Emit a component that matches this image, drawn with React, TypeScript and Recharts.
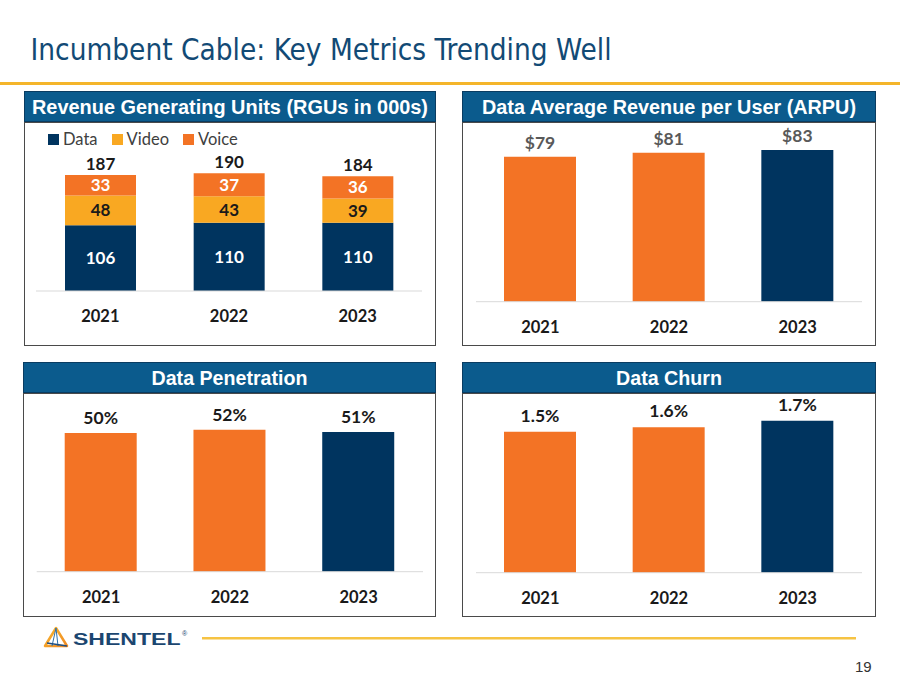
import React from "react";
import { BarChart, Bar, XAxis, YAxis, LabelList, Cell } from "recharts";

const years = ["2021", "2022", "2023"];
const rguData = [106, 110, 110];
const rguVideo = [48, 43, 39];
const rguVoice = [33, 37, 36];
const rguTotal = [187, 190, 184];
const arpu = [79.0, 81.3, 82.7];
const penetration = [50.4, 51.6, 50.8];
const churn = [1.54, 1.59, 1.66];

const ORANGE = "#F37325";
const NAVY = "#00345F";
const GOLD = "#F9A822";
const barColors = [ORANGE, ORANGE, NAVY];

const LABEL_FONT = "Lato, 'Open Sans', sans-serif";
const HEAD_FONT = "'Liberation Sans', Arial, sans-serif";

const rguRows = years.map((year, i) => ({
  year,
  data: rguData[i],
  video: rguVideo[i],
  voice: rguVoice[i],
  total: rguTotal[i],
}));
const arpuRows = years.map((year, i) => ({ year, value: arpu[i] }));
const penRows = years.map((year, i) => ({ year, value: penetration[i] }));
const churnRows = years.map((year, i) => ({ year, value: churn[i] }));

const legendItems = [
  { name: "Data", color: NAVY },
  { name: "Video", color: GOLD },
  { name: "Voice", color: ORANGE },
];

const YearTick = (props: any) => {
  const { x, y, payload } = props;
  return (
    <text
      x={x}
      y={y + 31}
      textAnchor="middle"
      fontFamily={LABEL_FONT}
      fontWeight={700}
      fontSize={16.5}
      fill="#1a1a1a"
    >
      {payload.value}
    </text>
  );
};

function Panel({ x, y, w, bottom, title, titleWidth }: any) {
  const headH = 31;
  return (
    <>
      <div
        style={{
          position: "absolute",
          left: x,
          top: y + headH,
          width: w,
          height: bottom - y - headH,
          boxSizing: "border-box",
          border: "1px solid #4a4a4a",
          background: "#fff",
        }}
      />
      <svg
        style={{ position: "absolute", left: x, top: y }}
        width={w}
        height={headH}
      >
        <rect x={0.5} y={0.5} width={w - 1} height={headH - 1} fill="#0B5B8D" stroke="#0A3C61" />
        <text
          x={w / 2}
          y={22.5}
          textAnchor="middle"
          fontFamily={HEAD_FONT}
          fontWeight={700}
          fontSize={19.5}
          fill="#fff"
          textLength={titleWidth}
          lengthAdjust="spacingAndGlyphs"
        >
          {title}
        </text>
      </svg>
    </>
  );
}

function SimpleBars({ rows, left, top, width, height, margin, domain, axisH, fmt, labelColor, offset }: any) {
  return (
    <div style={{ position: "absolute", left, top }}>
      <BarChart width={width} height={height} data={rows} margin={margin}>
        <XAxis
          dataKey="year"
          height={axisH}
          axisLine={{ stroke: "#d9d9d9" }}
          tickLine={false}
          tickSize={0}
          tickMargin={0}
          tick={<YearTick />}
          interval={0}
        />
        <YAxis hide domain={domain} />
        <Bar dataKey="value" barSize={72} isAnimationActive={false}>
          {rows.map((_: any, i: number) => (
            <Cell key={i} fill={barColors[i]} />
          ))}
          <LabelList
            dataKey="value"
            position="top"
            offset={offset}
            formatter={fmt}
            fill={labelColor}
            fontFamily={LABEL_FONT}
            fontWeight={700}
            fontSize={17.5}
          />
        </Bar>
      </BarChart>
    </div>
  );
}

export default function App() {
  return (
    <div
      style={{
        position: "absolute",
        left: 0,
        top: 0,
        width: 900,
        height: 684,
        background: "#fff",
        overflow: "hidden",
      }}
    >
      <svg style={{ position: "absolute", left: 0, top: 0 }} width={900} height={90}>
        <text
          x={30.5}
          y={60}
          fontFamily="'DejaVu Sans Condensed', 'DejaVu Sans', sans-serif"
          fontSize={30}
          fill="#124A75"
          textLength={581}
          lengthAdjust="spacingAndGlyphs"
        >
          Incumbent Cable: Key Metrics Trending Well
        </text>
        <rect x={0} y={82} width={900} height={3} fill="#F4B52A" />
      </svg>

      <Panel x={24} y={91} w={412} bottom={346} title="Revenue Generating Units (RGUs in 000s)" titleWidth={396} />
      <Panel x={462} y={91} w={414} bottom={346} title="Data Average Revenue per User (ARPU)" titleWidth={374} />
      <Panel x={23} y={362} w={413} bottom={617} title="Data Penetration" titleWidth={156} />
      <Panel x={462} y={362} w={414} bottom={617} title="Data Churn" titleWidth={106} />

      {/* RGU legend */}
      <div
        style={{
          position: "absolute",
          left: 48,
          top: 129,
          display: "flex",
          alignItems: "center",
          fontFamily: LABEL_FONT,
          fontSize: 16.5,
          color: "#404040",
        }}
      >
        {legendItems.map((it) => (
          <div key={it.name} style={{ display: "flex", alignItems: "center", marginRight: 14 }}>
            <span style={{ width: 11, height: 11, background: it.color, marginRight: 4 }} />
            <span>{it.name}</span>
          </div>
        ))}
      </div>

      <div style={{ position: "absolute", left: 24, top: 122 }}>
        <BarChart width={412} height={224} data={rguRows} margin={{ top: 45, right: 14, left: 12, bottom: 0 }}>
          <XAxis
            dataKey="year"
            height={55}
            axisLine={{ stroke: "#d9d9d9" }}
            tickLine={false}
            tickSize={0}
            tickMargin={0}
            tick={<YearTick />}
            interval={0}
          />
          <YAxis hide domain={[0, 200]} />
          <Bar dataKey="data" stackId="a" fill={NAVY} barSize={71} isAnimationActive={false}>
            <LabelList dataKey="data" position="center" fill="#fff" fontFamily={LABEL_FONT} fontWeight={700} fontSize={17} />
          </Bar>
          <Bar dataKey="video" stackId="a" fill={GOLD} barSize={71} isAnimationActive={false}>
            <LabelList dataKey="video" position="center" fill="#1a1a1a" fontFamily={LABEL_FONT} fontWeight={700} fontSize={17} />
          </Bar>
          <Bar dataKey="voice" stackId="a" fill={ORANGE} barSize={71} isAnimationActive={false}>
            <LabelList dataKey="voice" position="center" fill="#fff" fontFamily={LABEL_FONT} fontWeight={700} fontSize={17} />
            <LabelList dataKey="total" position="top" offset={5} fill="#1a1a1a" fontFamily={LABEL_FONT} fontWeight={700} fontSize={17} />
          </Bar>
        </BarChart>
      </div>

      <SimpleBars
        rows={arpuRows}
        left={462}
        top={122}
        width={414}
        height={224}
        margin={{ top: 14.7, right: 14, left: 14, bottom: 0 }}
        domain={[0, 90]}
        axisH={44.3}
        fmt={(v: number) => `$${v.toFixed(0)}`}
        labelColor="#595959"
        offset={8}
      />
      <SimpleBars
        rows={penRows}
        left={23}
        top={393}
        width={413}
        height={224}
        margin={{ top: 13.7, right: 13, left: 13.7, bottom: 0 }}
        domain={[0, 60]}
        axisH={45.3}
        fmt={(v: number) => `${v.toFixed(0)}%`}
        labelColor="#1a1a1a"
        offset={9}
      />
      <SimpleBars
        rows={churnRows}
        left={462}
        top={393}
        width={414}
        height={224}
        margin={{ top: 15, right: 14, left: 14, bottom: 0 }}
        domain={[0, 1.8]}
        axisH={44.3}
        fmt={(v: number) => `${v.toFixed(1)}%`}
        labelColor="#1a1a1a"
        offset={10}
      />

      {/* footer */}
      <svg style={{ position: "absolute", left: 0, top: 615 }} width={900} height={69}>
        <defs>
          <linearGradient id="tri" x1="0" y1="0" x2="1" y2="1">
            <stop offset="0%" stopColor="#F7B52C" />
            <stop offset="100%" stopColor="#F08A24" />
          </linearGradient>
        </defs>
        <polygon points="56,13 45,31 67,31" fill="none" stroke="url(#tri)" strokeWidth={2.5} strokeLinejoin="round" />
        <line x1={56} y1={13} x2={52} y2={31} stroke="#2F6FA8" strokeWidth={1} />
        <line x1={56} y1={13} x2={58} y2={31} stroke="#2F6FA8" strokeWidth={1} />
        <line x1={47} y1={28} x2={67} y2={31} stroke="#1F4E80" strokeWidth={1.5} />
        <text
          x={73}
          y={30}
          fontFamily={HEAD_FONT}
          fontWeight={700}
          fontSize={16.5}
          fill="#1B4670"
          textLength={107.5}
          lengthAdjust="spacingAndGlyphs"
        >
          SHENTEL
        </text>
        <text x={182} y={21} fontFamily={HEAD_FONT} fontSize={7} fill="#1B4670">®</text>
        <rect x={202} y={22} width={654} height={2.5} fill="#F6C343" />
        <text x={855} y={56.7} fontFamily={HEAD_FONT} fontSize={15} fill="#333">19</text>
      </svg>
    </div>
  );
}
